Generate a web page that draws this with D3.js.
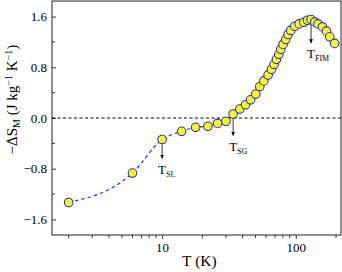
<!DOCTYPE html>
<html>
<head>
<meta charset="utf-8">
<script src="https://cdn.jsdelivr.net/npm/d3@7"></script>
<style>
  body { margin: 0; background: #fff; }
  text { font-family: "Liberation Serif", "Times New Roman", serif; }
</style>
</head>
<body>
<svg id="chart" width="342" height="272"></svg>
<script>
// data
var temps = [2, 6, 10, 14, 17.8, 22, 26, 30, 34, 38.1, 42.1, 45.9, 50.2, 53.8, 57.7, 62.1,
  65.8, 68.8, 71.7, 74.7, 77.3, 80.4, 84.2, 87.6, 91.8, 98.3, 105.9, 114.8, 122.4, 130.1,
  138.7, 146.8, 158.5, 169.8, 179.6, 195.5];
var dsm = [-1.333, -0.869, -0.34, -0.21, -0.147, -0.13, -0.085, -0.053, 0.063, 0.141, 0.209,
  0.287, 0.377, 0.496, 0.585, 0.679, 0.769, 0.847, 0.926, 1.004, 1.083, 1.161, 1.239, 1.318,
  1.381, 1.448, 1.484, 1.511, 1.542, 1.553, 1.516, 1.484, 1.437, 1.37, 1.28, 1.177];
var yTicks = [-1.6, -0.8, 0.0, 0.8, 1.6];
var xTicks = [10, 100];
var markNames = ["SL", "SG", "FiM"];
var markT = [10, 34, 130.1];
var markFrom = [-0.42, -0.01, 1.47];
var markTo = [-0.64, -0.28, 1.18];

var margin = { top: 1, right: 1, bottom: 37, left: 52 },
  width = 342 - margin.left - margin.right,
  height = 272 - margin.top - margin.bottom;

var svg = d3.select("#chart")
  .style("font-family", "Liberation Serif")
  .append("g")
  .attr("transform", "translate(" + margin.left + "," + margin.top + ")");

var x = d3.scaleLog().domain([1.5, 218]).range([0, width]);
var y = d3.scaleLinear().domain([-1.846, 1.846]).range([height, 0]);

// frame
svg.append("rect")
  .attr("width", width).attr("height", height)
  .attr("fill", "none").attr("stroke", "#222").attr("stroke-width", 1);

// x axis, ticks outward
var minorX = [2, 3, 4, 5, 6, 7, 8, 9, 20, 30, 40, 50, 60, 70, 80, 90, 200];
var gx = svg.append("g").attr("transform", "translate(0," + height + ")");
gx.call(d3.axisBottom(x).tickValues(xTicks).tickFormat(d3.format("d")).tickSize(4).tickPadding(4));
gx.selectAll(".minor").data(minorX).join("line")
  .attr("x1", d => x(d)).attr("x2", d => x(d))
  .attr("y1", 0).attr("y2", 3).attr("stroke", "#333");
gx.select(".domain").remove();
gx.selectAll("line").attr("stroke", "#333");
gx.selectAll("text").attr("font-size", 13).attr("fill", "#000")
  .style("font-family", "Liberation Serif");

// y axis, ticks inward
var gy = svg.append("g");
gy.call(d3.axisLeft(y).tickValues(yTicks).tickFormat(d3.format(".1f")).tickSize(-4).tickPadding(5));
gy.selectAll(".minor").data([-1.2, -0.4, 0.4, 1.2]).join("line")
  .attr("x1", 0).attr("x2", 3)
  .attr("y1", d => y(d)).attr("y2", d => y(d)).attr("stroke", "#333");
gy.select(".domain").remove();
gy.selectAll("line").attr("stroke", "#333");
gy.selectAll("text").attr("font-size", 13).attr("fill", "#000")
  .style("font-family", "Liberation Serif");

// zero line
svg.append("line")
  .attr("x1", 0).attr("x2", width)
  .attr("y1", y(0)).attr("y2", y(0))
  .attr("stroke", "#000").attr("stroke-dasharray", "3,2.5");

// fit curve
var pts = temps.map((t, i) => [t, dsm[i]]);
var line = d3.line().x(d => x(d[0])).y(d => y(d[1])).curve(d3.curveMonotoneX);
svg.append("path").attr("d", line(pts))
  .attr("fill", "none").attr("stroke", "#1f2fff").attr("stroke-width", 1.2)
  .attr("stroke-dasharray", "3.5,3");

svg.append("g").selectAll("circle").data(pts).join("circle")
  .attr("cx", d => x(d[0])).attr("cy", d => y(d[1])).attr("r", 4.3)
  .attr("fill", "#ffff00").attr("stroke", "#1f2fff").attr("stroke-width", 1.1);

// arrows
svg.append("defs").append("marker")
  .attr("id", "arr").attr("viewBox", "0 0 10 10").attr("refX", 10).attr("refY", 5)
  .attr("markerWidth", 5).attr("markerHeight", 5).attr("orient", "auto")
  .append("path").attr("d", "M0,0L10,5L0,10z").attr("fill", "#000");

markNames.forEach(function (n, i) {
  svg.append("line")
    .attr("x1", x(markT[i])).attr("x2", x(markT[i]))
    .attr("y1", y(markFrom[i])).attr("y2", y(markTo[i]))
    .attr("stroke", "#000").attr("stroke-width", 0.8)
    .attr("marker-end", "url(#arr)");
  var t = svg.append("text")
    .attr("x", x(markT[i]) - 4).attr("y", y(markTo[i]) + 15)
    .attr("font-size", 13).attr("fill", "#000");
  t.append("tspan").text("T");
  t.append("tspan").attr("font-size", 8).attr("dy", 3).text(n.toUpperCase());
});

// axis labels
svg.append("text")
  .attr("x", x(19)).attr("y", height + 31)
  .attr("text-anchor", "middle").attr("font-size", 15.5).text("T (K)");

var yl = svg.append("text")
  .attr("transform", "translate(" + (-35) + "," + (y(0.29)) + ") rotate(-90)")
  .attr("text-anchor", "middle").attr("font-size", 15);
yl.append("tspan").text("\u2212\u0394S");
yl.append("tspan").attr("font-size", 10).attr("dy", 3).text("M");
yl.append("tspan").attr("dy", -3).text(" (J kg");
yl.append("tspan").attr("font-size", 10).attr("dy", -5).text("\u22121");
yl.append("tspan").attr("dy", 5).text(" K");
yl.append("tspan").attr("font-size", 10).attr("dy", -5).text("\u22121");
yl.append("tspan").attr("dy", 5).text(")");
</script>
</body>
</html>
